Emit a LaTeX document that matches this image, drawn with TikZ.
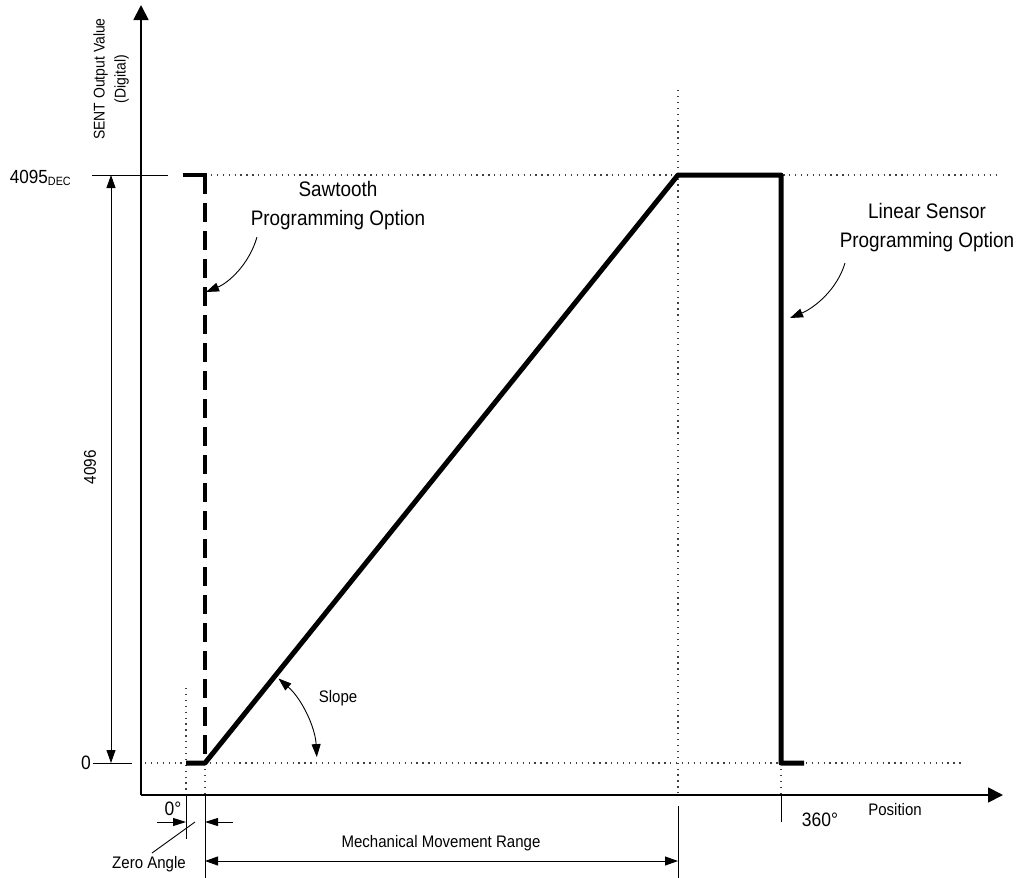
\documentclass[tikz,border=0pt]{standalone}
\usepackage{fontspec}
\setmainfont[FakeStretch=0.9]{Liberation Sans}
\usetikzlibrary{arrows.meta}
\begin{document}
\begin{tikzpicture}[x=1pt,y=-1pt,
  axisline/.style={line width=1.8pt, -{Triangle[length=15pt,width=15pt]}},
  thinline/.style={line width=0.9pt},
  dimarrow/.style={line width=0.9pt, {Triangle[length=13pt,width=9pt]}-{Triangle[length=13pt,width=9pt]}},
  onearrow/.style={line width=0.9pt, -{Triangle[length=13pt,width=8pt]}},
  leader/.style={line width=0.9pt, -{Triangle[length=13pt,width=9pt]}},
  dotline/.style={line width=1.3pt, dash pattern=on 1.3pt off 4.6pt, black!75},
  curveline/.style={line width=5pt, line join=round},
  dashcurve/.style={line width=4pt, dash pattern=on 19pt off 9pt},
  big/.style={font=\fontsize{21}{29}\selectfont, align=center, inner sep=0pt},
  mid/.style={font=\fontsize{16.7}{19}\selectfont, inner sep=0pt},
  deg/.style={font=\fontsize{19.4}{22}\selectfont, inner sep=0pt},
  small/.style={font=\fontsize{15.5}{21}\selectfont, inner sep=0pt, align=center},
]
\useasboundingbox (0,0) rectangle (1018,878);

% key coordinates
\coordinate (origin) at (141,795);
\coordinate (ytip) at (141,5);
\coordinate (xtip) at (1003,795);
\coordinate (o) at (205,763);
\coordinate (s0) at (186,763);
\coordinate (top) at (678,175);
\coordinate (topR) at (781,175);
\coordinate (botR) at (781,763);
\coordinate (endR) at (804,763);
\coordinate (sawL) at (183,175);
\coordinate (sawT) at (205,175);

% dotted guide lines
\coordinate (h1a) at (205,175); \coordinate (h1b) at (1000,175);
\coordinate (h0a) at (145,763); \coordinate (h0b) at (963,763);
\coordinate (v1a) at (186,688); \coordinate (v1b) at (186,795);
\coordinate (v2a) at (205,763); \coordinate (v2b) at (205,795);
\coordinate (v3a) at (678,90);  \coordinate (v3b) at (678,795);
\coordinate (v4a) at (781,763); \coordinate (v4b) at (781,795);
\draw[dotline] (h1a) -- (h1b);
\draw[dotline] (h0a) -- (h0b);
\draw[dotline] (v1a) -- (v1b);
\draw[dotline] (v2a) -- (v2b);
\draw[dotline] (v3a) -- (v3b);
\draw[dotline] (v4a) -- (v4b);

% axes
\draw[axisline] (origin) -- (ytip);
\draw[axisline] (origin) -- (xtip);

% y ticks and dimension
\coordinate (t1a) at (92,175); \coordinate (t1b) at (168,175);
\coordinate (t0a) at (93,763); \coordinate (t0b) at (132,763);
\draw[thinline] (t1a) -- (t1b);
\draw[thinline] (t0a) -- (t0b);
\coordinate (d1) at (111,175); \coordinate (d0) at (111,763);
\draw[dimarrow] (d1) -- (d0);

% extension lines below x axis
\coordinate (e1a) at (186,795); \coordinate (e1b) at (186,839);
\coordinate (e2a) at (205,795); \coordinate (e2b) at (205,878);
\coordinate (e3a) at (678,806); \coordinate (e3b) at (678,878);
\coordinate (e4a) at (781,795); \coordinate (e4b) at (781,822);
\draw[thinline] (e1a) -- (e1b);
\draw[thinline] (e2a) -- (e2b);
\draw[thinline] (e3a) -- (e3b);
\draw[thinline] (e4a) -- (e4b);

% zero angle arrows
\coordinate (za1) at (157,822); \coordinate (za2) at (186,822);
\coordinate (zb1) at (233,822); \coordinate (zb2) at (205,822);
\draw[onearrow] (za1) -- (za2);
\draw[onearrow] (zb1) -- (zb2);
\coordinate (zl1) at (152,853); \coordinate (zl2) at (195,822);
\draw[thinline] (zl1) -- (zl2);

% mechanical movement range
\coordinate (m1) at (205,861); \coordinate (m2) at (678,861);
\draw[dimarrow] (m1) -- (m2);

% transfer curve
\draw[curveline] (s0) -- (o) -- (top) -- (topR) -- (botR) -- (endR);
\draw[line width=4pt] (sawL) -- (sawT) -- ++(0,10);
\draw[dashcurve] (sawT) -- (o);

% slope arc
\coordinate (sl1) at (316.8,757.1);
\coordinate (sl2) at (278.5,678.5);
\draw[dimarrow] (sl1) .. controls (315.2,726.7) and (301.4,698.4) .. (sl2);

% leaders
\coordinate (sawA) at (257,237); \coordinate (sawB) at (206,292);
\draw[leader] (sawA) .. controls (249,265) and (228,283) .. (sawB);
\coordinate (linA) at (845,263); \coordinate (linB) at (790,318);
\draw[leader] (linA) .. controls (837,290) and (814,308) .. (linB);

% labels
\node[small, rotate=90] (ylab) at (111,79) {SENT Output Value\\(Digital)};
\node[font=\fontsize{17}{20}\selectfont, inner sep=0pt, rotate=90] (n4096) at (90,467) {4096};
\node[anchor=east, inner sep=0pt] (n4095) at (71,178)
  {{\fontsize{19}{22}\selectfont 4095}{\fontsize{12}{14}\selectfont\raisebox{-2.5pt}{DEC}}};
\node[deg, anchor=east] (n0) at (91,763) {0};
\node[deg] (d0lab) at (173,809) {0°};
\node[mid] (zero) at (149,864) {Zero Angle};
\node[mid] (mech) at (441,843) {Mechanical Movement Range};
\node[deg] (d360) at (820,820) {360°};
\node[mid] (pos) at (895,810) {Position};
\node[mid] (slope) at (338,698) {Slope};
\node[big] (saw) at (338,206) {Sawtooth\\Programming Option};
\node[big] (lin) at (927,228) {Linear Sensor\\Programming Option};
\end{tikzpicture}
\end{document}
